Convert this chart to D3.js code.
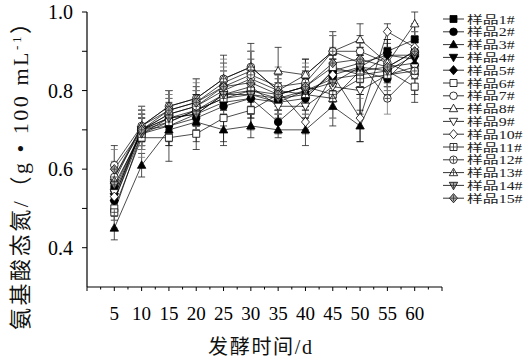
<!DOCTYPE html>
<html>
<head>
<meta charset="utf-8">
<script src="https://cdn.jsdelivr.net/npm/d3@7"></script>
<style>
  body { margin: 0; background: #fff; }
  svg { display: block; }
</style>
</head>
<body>
<svg id="chart" width="527" height="362"></svg>
<script>
// fermentation days and sample names
const days = [5, 10, 15, 20, 25, 30, 35, 40, 45, 50, 55, 60];
const sampleNames = ["样品1#", "样品2#", "样品3#", "样品4#", "样品5#", "样品6#", "样品7#", "样品8#",
  "样品9#", "样品10#", "样品11#", "样品12#", "样品13#", "样品14#", "样品15#"];

// amino acid nitrogen, g/100 mL (one row per sample)
const values = [
  [0.55, 0.70, 0.73, 0.75, 0.79, 0.80, 0.78, 0.79, 0.84, 0.86, 0.90, 0.93],
  [0.52, 0.70, 0.71, 0.73, 0.76, 0.78, 0.72, 0.78, 0.85, 0.85, 0.83, 0.90],
  [0.45, 0.61, 0.70, 0.72, 0.70, 0.71, 0.70, 0.70, 0.76, 0.71, 0.86, 0.87],
  [0.53, 0.70, 0.72, 0.75, 0.78, 0.79, 0.77, 0.80, 0.83, 0.84, 0.89, 0.88],
  [0.52, 0.69, 0.71, 0.74, 0.77, 0.78, 0.77, 0.78, 0.85, 0.87, 0.89, 0.89],
  [0.50, 0.68, 0.68, 0.69, 0.73, 0.75, 0.79, 0.81, 0.86, 0.84, 0.85, 0.81],
  [0.61, 0.71, 0.76, 0.78, 0.83, 0.86, 0.80, 0.84, 0.90, 0.90, 0.87, 0.84],
  [0.58, 0.71, 0.75, 0.77, 0.82, 0.85, 0.85, 0.84, 0.90, 0.93, 0.87, 0.97],
  [0.54, 0.70, 0.73, 0.74, 0.79, 0.81, 0.76, 0.76, 0.81, 0.80, 0.84, 0.86],
  [0.53, 0.70, 0.74, 0.76, 0.80, 0.83, 0.80, 0.72, 0.84, 0.73, 0.95, 0.91],
  [0.49, 0.69, 0.72, 0.75, 0.78, 0.80, 0.79, 0.81, 0.79, 0.83, 0.84, 0.85],
  [0.58, 0.70, 0.74, 0.76, 0.81, 0.84, 0.81, 0.82, 0.90, 0.87, 0.78, 0.85],
  [0.57, 0.71, 0.76, 0.78, 0.83, 0.86, 0.80, 0.79, 0.78, 0.85, 0.86, 0.90],
  [0.56, 0.69, 0.73, 0.74, 0.79, 0.79, 0.78, 0.80, 0.82, 0.86, 0.85, 0.89],
  [0.60, 0.70, 0.75, 0.77, 0.81, 0.82, 0.79, 0.81, 0.87, 0.88, 0.86, 0.90]
];

// standard deviations
const errors = [
  [0.03, 0.03, 0.03, 0.04, 0.04, 0.04, 0.04, 0.04, 0.04, 0.05, 0.03, 0.04],
  [0.03, 0.04, 0.04, 0.03, 0.05, 0.05, 0.03, 0.05, 0.04, 0.04, 0.04, 0.03],
  [0.03, 0.03, 0.04, 0.05, 0.04, 0.03, 0.02, 0.04, 0.05, 0.04, 0.03, 0.04],
  [0.04, 0.05, 0.03, 0.04, 0.05, 0.05, 0.04, 0.04, 0.05, 0.05, 0.04, 0.05],
  [0.03, 0.04, 0.05, 0.03, 0.04, 0.05, 0.05, 0.05, 0.03, 0.04, 0.04, 0.04],
  [0.03, 0.03, 0.06, 0.04, 0.06, 0.05, 0.04, 0.05, 0.04, 0.05, 0.04, 0.04],
  [0.05, 0.05, 0.04, 0.05, 0.06, 0.06, 0.05, 0.04, 0.05, 0.04, 0.05, 0.05],
  [0.03, 0.04, 0.05, 0.04, 0.05, 0.05, 0.06, 0.04, 0.04, 0.04, 0.04, 0.03],
  [0.04, 0.03, 0.04, 0.05, 0.04, 0.04, 0.04, 0.06, 0.04, 0.06, 0.03, 0.05],
  [0.03, 0.04, 0.04, 0.04, 0.05, 0.05, 0.04, 0.03, 0.05, 0.06, 0.02, 0.04],
  [0.04, 0.06, 0.04, 0.05, 0.04, 0.04, 0.05, 0.04, 0.06, 0.05, 0.04, 0.05],
  [0.04, 0.04, 0.05, 0.04, 0.04, 0.06, 0.05, 0.05, 0.04, 0.05, 0.04, 0.04],
  [0.04, 0.05, 0.04, 0.05, 0.05, 0.04, 0.05, 0.06, 0.05, 0.05, 0.05, 0.04],
  [0.05, 0.04, 0.05, 0.04, 0.04, 0.05, 0.04, 0.05, 0.05, 0.04, 0.05, 0.04],
  [0.05, 0.05, 0.04, 0.05, 0.05, 0.04, 0.05, 0.04, 0.04, 0.05, 0.04, 0.05]
];

// marker for each sample: shape, filled or open, with inner cross
const markerShapes = ["square", "circle", "up", "down", "diamond", "square", "circle", "up",
  "down", "diamond", "square", "circle", "up", "down", "diamond"];
const markerFills = ["#000", "#000", "#000", "#000", "#000", "#fff", "#fff", "#fff",
  "#fff", "#fff", "#fff", "#fff", "#fff", "#aaa", "#aaa"];
const markerCross = [false, false, false, false, false, false, false, false,
  false, false, true, true, true, true, true];

const xTickLabels = [5, 10, 15, 20, 25, 30, 35, 40, 45, 50, 55, 60];
const yTickLabels = [0.4, 0.6, 0.8, 1.0];
const yMinorTicks = [0.5, 0.7, 0.9];

const serif = "'Liberation Serif', 'Times New Roman', 'Noto Sans CJK SC', serif";

const svg = d3.select("#chart");
const margin = { left: 87, top: 12, right: 442, bottom: 287 };

const x = d3.scaleLinear().domain([0, 65]).range([margin.left, margin.right]);
const y = d3.scaleLinear().domain([0.3, 1.0]).range([margin.bottom, margin.top]);

// shape paths, centred on 0,0
const shapePath = {
  square: "M-3.5,-3.5h7v7h-7z",
  circle: "M3.8,0A3.8,3.8 0 1,1 -3.8,0A3.8,3.8 0 1,1 3.8,0z",
  up: "M0,-4.4L4.2,3.1L-4.2,3.1z",
  down: "M0,4.4L4.2,-3.1L-4.2,-3.1z",
  diamond: "M0,-4.6L4,0L0,4.6L-4,0z"
};

function drawMarker(g, i) {
  g.append("path")
    .attr("d", shapePath[markerShapes[i]])
    .attr("fill", markerFills[i])
    .attr("stroke", "#000")
    .attr("stroke-width", 0.8);
  if (markerCross[i]) {
    g.append("path")
      .attr("d", "M-3,0h6M0,-3v6")
      .attr("stroke", "#333")
      .attr("stroke-width", 0.8);
  }
}

// axes
const xAxis = svg.append("g").attr("transform", `translate(0,${margin.bottom})`);
xAxis.append("line")
  .attr("x1", margin.left).attr("x2", margin.right)
  .attr("stroke", "#000").attr("stroke-width", 1.2);
const xMinor = d3.range(0, 66, 2.5);
xAxis.selectAll(".xt").data(xMinor).enter().append("line")
  .attr("x1", d => x(d)).attr("x2", d => x(d))
  .attr("y1", 0).attr("y2", d => d % 5 === 0 ? 4 : 2.5)
  .attr("stroke", "#000").attr("stroke-width", 1);
xAxis.selectAll(".xl").data(xTickLabels).enter().append("text")
  .attr("x", d => x(d)).attr("y", 33)
  .attr("text-anchor", "middle")
  .attr("font-family", serif).attr("font-size", 19)
  .text(d => d);

const yAxis = svg.append("g");
yAxis.append("line")
  .attr("x1", margin.left).attr("x2", margin.left)
  .attr("y1", margin.top).attr("y2", margin.bottom)
  .attr("stroke", "#000").attr("stroke-width", 1.2);
yAxis.selectAll(".yt").data(yTickLabels.concat(yMinorTicks)).enter().append("line")
  .attr("x1", margin.left - 5).attr("x2", margin.left)
  .attr("y1", d => y(d)).attr("y2", d => y(d))
  .attr("stroke", "#000").attr("stroke-width", 1);
yAxis.selectAll(".yl").data(yTickLabels).enter().append("text")
  .attr("x", 73).attr("y", d => y(d) + 7)
  .attr("text-anchor", "end")
  .attr("font-family", serif).attr("font-size", 20)
  .text(d => d.toFixed(1));

// axis titles
svg.append("text")
  .attr("x", 260).attr("y", 354)
  .attr("text-anchor", "middle")
  .attr("font-family", serif).attr("font-size", 20)
  .attr("textLength", 104).attr("lengthAdjust", "spacing")
  .attr("fill", "#111")
  .text("发酵时间/d");

const yTitle = svg.append("text")
  .attr("transform", "translate(28,171) rotate(-90)")
  .attr("text-anchor", "middle")
  .attr("font-family", serif).attr("font-size", 22)
  .attr("fill", "#111")
  .attr("textLength", 318).attr("lengthAdjust", "spacing");
yTitle.append("tspan").text("氨基酸态氮/（g • 100 mL");
yTitle.append("tspan").attr("dy", -7).attr("font-size", 13).text("-1");
yTitle.append("tspan").attr("dy", 7).text("）");

// series
const line = d3.line().x((d, j) => x(days[j])).y(d => y(d));
const plot = svg.append("g");

values.forEach((vals, i) => {
  const g = plot.append("g");
  const errColor = markerCross[i] ? "#777" : "#222";
  vals.forEach((v, j) => {
    const e = errors[i][j];
    const cx = x(days[j]);
    g.append("path")
      .attr("d", `M${cx},${y(v - e)}V${y(v + e)}M${cx - 3.5},${y(v - e)}h7M${cx - 3.5},${y(v + e)}h7`)
      .attr("stroke", errColor).attr("stroke-width", 0.8).attr("fill", "none");
  });
  g.append("path")
    .attr("d", line(vals))
    .attr("fill", "none").attr("stroke", "#000").attr("stroke-width", 0.7);
});

values.forEach((vals, i) => {
  vals.forEach((v, j) => {
    const m = plot.append("g").attr("transform", `translate(${x(days[j])},${y(v)})`);
    drawMarker(m, i);
  });
});

// legend
const legend = svg.append("g");
sampleNames.forEach((name, i) => {
  const ly = 19 + i * 12.8;
  legend.append("line")
    .attr("x1", 443).attr("x2", 464).attr("y1", ly).attr("y2", ly)
    .attr("stroke", "#000").attr("stroke-width", 0.8);
  drawMarker(legend.append("g").attr("transform", `translate(453.5,${ly})`), i);
  legend.append("text")
    .attr("transform", `translate(467,${ly + 4.5}) scale(1.38,1)`)
    .attr("font-family", serif).attr("font-size", 11.5)
    .attr("fill", "#222")
    .text(name);
});
</script>
</body>
</html>
